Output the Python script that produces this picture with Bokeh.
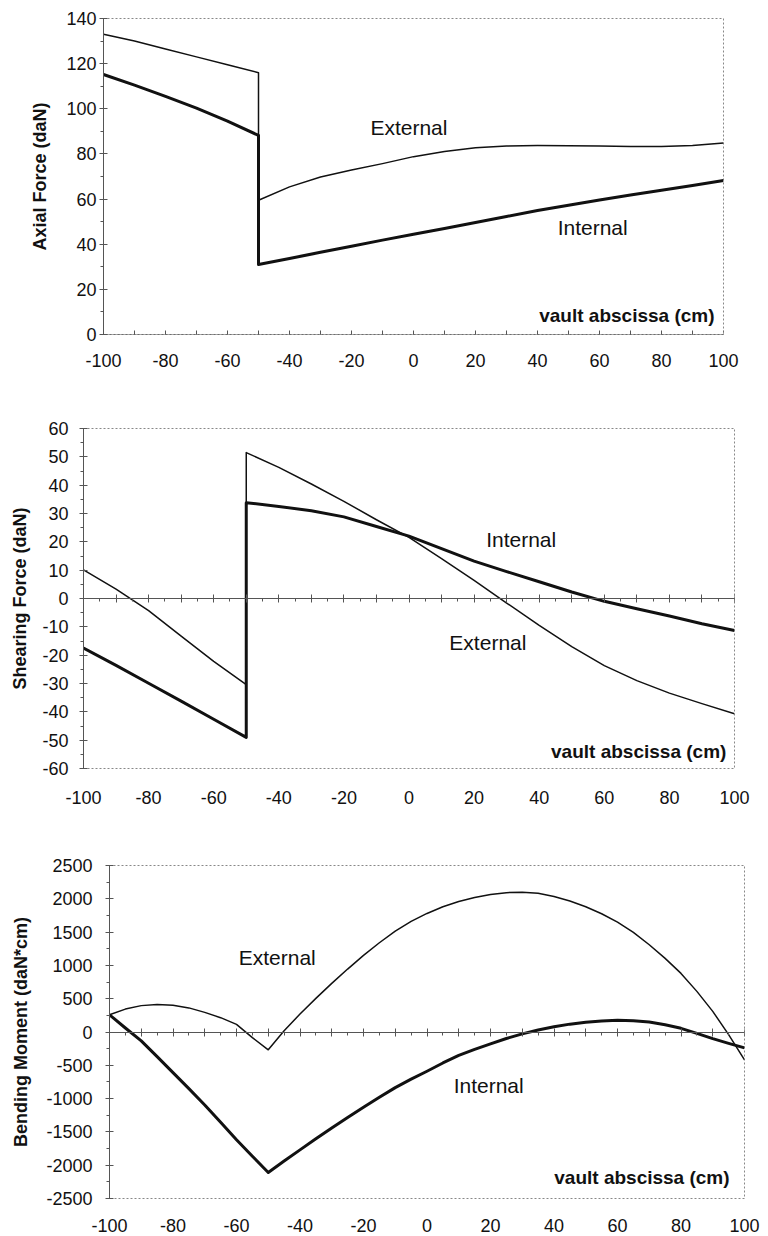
from bokeh.plotting import figure
from bokeh.models import LinearAxis, SingleIntervalTicker, Label, Range1d, CustomJSTickFormatter
from bokeh.layouts import column
from bokeh.embed import file_html
from bokeh.resources import INLINE

FONT = "Liberation Sans"

# ---------------- data ----------------
x_axial_ext = [-100, -90, -80, -70, -60, -50, -50, -40, -30, -20, -10, 0, 10, 20, 30, 40, 50, 60, 70, 80, 90, 100]
y_axial_ext = [133, 130, 126.5, 123, 119.5, 116, 59.5, 65.4, 69.8, 72.9, 75.7, 78.8, 81.1, 82.7, 83.5, 83.7, 83.6, 83.5, 83.3, 83.3, 83.7, 84.8]

x_axial_int = [-100, -90, -80, -70, -60, -50, -50, -40, -30, -20, -10, 0, 10, 20, 30, 40, 50, 60, 70, 80, 90, 100]
y_axial_int = [115.2, 110.5, 105.5, 100.3, 94.5, 88.2, 31.0, 33.7, 36.4, 39.1, 41.8, 44.4, 47.0, 49.6, 52.3, 54.9, 57.3, 59.6, 61.8, 63.9, 66.0, 68.2]

x_shear_ext = [-100, -90, -80, -70, -60, -50, -50, -40, -30, -20, -10, 0, 10, 20, 30, 40, 50, 60, 70, 80, 90, 100]
y_shear_ext = [10.1, 3.3, -4.3, -13.3, -22.2, -30.4, 51.5, 46.3, 40.4, 34.3, 27.8, 21.6, 14.1, 6.4, -1.6, -9.5, -17.0, -23.7, -29.0, -33.4, -37.1, -40.7]

x_shear_int = [-100, -90, -80, -70, -60, -50, -50, -40, -30, -20, -10, 0, 10, 20, 30, 40, 50, 60, 70, 80, 90, 100]
y_shear_int = [-17.5, -23.6, -29.9, -36.2, -42.6, -49.0, 33.8, 32.5, 31.0, 28.8, 25.4, 22.0, 17.6, 13.2, 9.5, 5.9, 2.3, -1.0, -3.6, -6.2, -8.9, -11.3]

x_bend_ext = [-100, -95, -90, -85, -80, -75, -70, -65, -60, -55, -50, -45, -40, -35, -30, -25, -20, -15, -10, -5, 0, 5, 10, 15, 20, 25, 30, 35, 40, 45, 50, 55, 60, 65, 70, 75, 80, 85, 90, 95, 100]
y_bend_ext = [258, 344, 396, 413, 400, 362, 295, 215, 115, -85, -267, 20, 270, 505, 730, 945, 1150, 1340, 1515, 1660, 1780, 1880, 1960, 2020, 2065, 2092, 2100, 2082, 2035, 1968, 1880, 1775, 1650, 1495, 1310, 1105, 880, 610, 310, -40, -417]

x_bend_int = [-100, -95, -90, -85, -80, -75, -70, -65, -60, -55, -50, -45, -40, -35, -30, -25, -20, -15, -10, -5, 0, 5, 10, 15, 20, 25, 30, 35, 40, 45, 50, 55, 60, 65, 70, 75, 80, 85, 90, 95, 100]
y_bend_int = [258, 60, -133, -370, -610, -850, -1095, -1355, -1617, -1865, -2110, -1938, -1770, -1603, -1440, -1283, -1130, -980, -835, -708, -589, -465, -352, -262, -178, -98, -28, 30, 78, 118, 148, 166, 175, 168, 150, 108, 55, -20, -100, -170, -238]

x_label_interval = 20

AXIS_COLOR = "#555555"
TEXT_COLOR = "#111111"


def make_panel(frame_w, frame_h, bl, bt, br, bb, y_lo, y_hi, y_int, y_title,
               y_std, y_title_std, x_std, series, labels, xlabel_pos):
    p = figure(frame_width=frame_w, frame_height=frame_h,
               x_range=Range1d(-100, 100), y_range=Range1d(y_lo, y_hi),
               output_backend="svg", toolbar_location=None,
               min_border_left=bl, min_border_top=bt, min_border_right=br, min_border_bottom=bb,
               background_fill_color="white", border_fill_color="white")
    p.frame_align = False
    p.grid.visible = False
    p.outline_line_color = "#888888"
    p.outline_line_dash = "2 2"
    p.outline_line_width = 1

    fmt = CustomJSTickFormatter(code="return tick.toFixed(0)")

    # bottom axis: labels only
    xa = p.xaxis[0]
    xa.ticker = SingleIntervalTicker(interval=x_label_interval, num_minor_ticks=0)
    xa.formatter = fmt
    xa.axis_line_color = None
    xa.major_tick_line_color = None
    xa.minor_tick_line_color = None
    xa.major_label_standoff = x_std
    xa.major_label_text_font = FONT
    xa.major_label_text_font_size = "18px"
    xa.major_label_text_color = TEXT_COLOR

    # zero-line axis with ticks
    z = LinearAxis(fixed_location=0,
                   ticker=SingleIntervalTicker(interval=10, num_minor_ticks=2),
                   formatter=CustomJSTickFormatter(code="return ''"))
    z.axis_line_color = AXIS_COLOR
    z.major_tick_line_color = AXIS_COLOR
    z.minor_tick_line_color = AXIS_COLOR
    z.major_tick_in = 4
    z.major_tick_out = 4
    z.minor_tick_in = 0
    z.minor_tick_out = 3
    p.add_layout(z, "below")

    ya = p.yaxis[0]
    ya.ticker = SingleIntervalTicker(interval=y_int, num_minor_ticks=2)
    ya.formatter = fmt
    ya.axis_line_color = AXIS_COLOR
    ya.major_tick_line_color = AXIS_COLOR
    ya.minor_tick_line_color = AXIS_COLOR
    ya.major_tick_in = 4
    ya.major_tick_out = 4
    ya.minor_tick_in = 0
    ya.minor_tick_out = 3
    ya.major_label_standoff = y_std
    ya.major_label_text_font = FONT
    ya.major_label_text_font_size = "18px"
    ya.major_label_text_color = TEXT_COLOR
    ya.axis_label = y_title
    ya.axis_label_text_font = FONT
    ya.axis_label_text_font_size = "18px"
    ya.axis_label_text_font_style = "bold"
    ya.axis_label_text_color = TEXT_COLOR
    ya.axis_label_standoff = y_title_std

    for xs, ys, w in series:
        p.line(xs, ys, line_color=TEXT_COLOR, line_width=w, line_join="round")

    for txt, lx, ly in labels:
        p.add_layout(Label(x=lx, y=ly, text=txt, text_font=FONT, text_font_size="21px",
                           text_color=TEXT_COLOR, text_baseline="middle", text_align="left"))

    p.add_layout(Label(x=xlabel_pos[0], y=xlabel_pos[1], text="vault abscissa (cm)", text_font=FONT,
                       text_font_size="19px", text_font_style="bold", text_color=TEXT_COLOR,
                       text_baseline="middle", text_align="right"))
    return p


p1 = make_panel(620, 316, 103, 18, 35, 74, 0, 140, 20, "Axial Force (daN)", 3, 13, 13,
                [(x_axial_ext, y_axial_ext, 1.5), (x_axial_int, y_axial_int, 3)],
                [("External", -13.9, 91.7), ("Internal", 46.5, 47.4)], (97.1, 8.4))

p2 = make_panel(651, 340, 83, 20, 30, 77, -60, 60, 10, "Shearing Force (daN)", 11, 9, 16,
                [(x_shear_ext, y_shear_ext, 1.5), (x_shear_int, y_shear_int, 3)],
                [("Internal", 23.7, 20.8), ("External", 12.4, -15.4)], (97.5, -54))

p3 = make_panel(635, 333, 109, 20, 22, 36, -2500, 2500, 500, "Bending Moment (daN*cm)", 13, 12, 14,
                [(x_bend_ext, y_bend_ext, 1.5), (x_bend_int, y_bend_int, 3)],
                [("External", -59.3, 1114), ("Internal", 8.4, -803)], (95.3, -2185))

layout = column(p1, p2, p3, spacing=0)

open("out.html", "w").write(file_html(layout, INLINE))
